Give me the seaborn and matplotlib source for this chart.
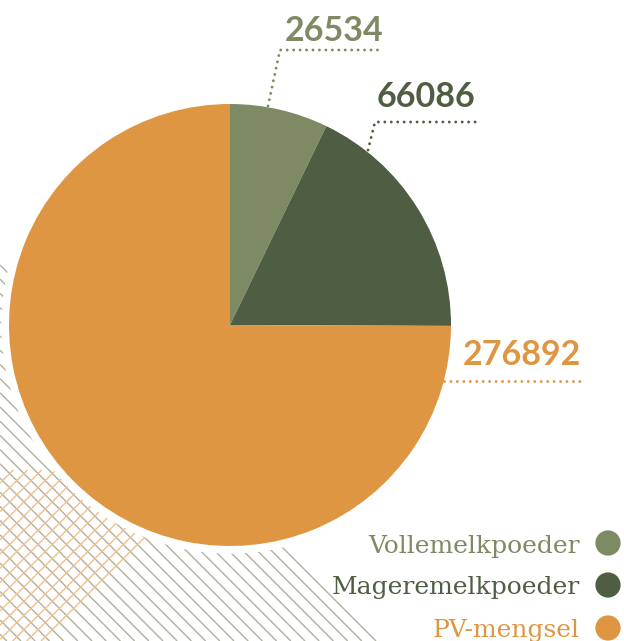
import numpy as np
import pandas as pd
import matplotlib
matplotlib.use('Agg')
import matplotlib.pyplot as plt
import seaborn as sns
from matplotlib.patches import Circle

# data
categories = ['Vollemelkpoeder', 'Mageremelkpoeder', 'PV-mengsel']
values = [26534, 66086, 276892]
value_labels = ['26534', '66086', '276892']
colors = ['#7e8a64', '#4f5e42', '#df9642']

W, H = 624, 641

sns.set_style('white')
plt.rcParams['font.family'] = ['Lato', 'DejaVu Sans']

fig = plt.figure(figsize=(W / 100, H / 100), dpi=100)
ax = fig.add_axes([0, 0, 1, 1])


def Y(y):
    # image pixel row -> data y
    return H - y


# background hatching (grey "\" and orange "/")
for c in np.arange(265, H + 1, 14.2):
    ax.plot([0, H - c], [Y(c), Y(H)], color='#b4b4a2', lw=1.05, zorder=1,
            solid_capstyle='butt')
for d in np.arange(682, 470, -14.2):
    x0 = max(0, d - H)
    x1 = d - 470
    ax.plot([x0, x1], [Y(d - x0), Y(d - x1)], color='#f4c08c', lw=1.05,
            zorder=1, solid_capstyle='butt')

cx, cy, r = 230, Y(325), 221
ax.add_patch(Circle((cx, cy), r + 7, color='white', zorder=2))

ax.pie(values, colors=colors, startangle=90, counterclock=False,
       center=(cx, cy), radius=r,
       wedgeprops=dict(edgecolor='none', linewidth=0, zorder=3))

# leader lines + value labels
leaders = [([268, 280, 383], [106, 50, 50]),
           ([368, 375, 478], [150, 122, 122]),
           ([444, 584], [381, 381])]
label_pos = [(334, 41), (426, 107), (522, 365)]
for (xs, ys), (tx, ty), lab, col in zip(leaders, label_pos, value_labels, colors):
    ax.plot(xs, [Y(v) for v in ys], color=col, lw=2.1,
            linestyle=(0, (0.01, 2.2)), dash_capstyle='round', zorder=4)
    ax.text(tx, Y(ty), lab, color=col, fontsize=24.5, fontweight='bold',
            ha='center', va='baseline', zorder=5)

# legend
leg_y = [543, 585, 628]
base_y = [553, 594, 637]
dots = pd.DataFrame({'x': [608] * 3, 'y': [Y(v) for v in leg_y],
                     'cat': categories})
sns.scatterplot(data=dots, x='x', y='y', hue='cat', palette=colors,
                s=330, linewidth=0, legend=False, ax=ax, zorder=5)
for cat, col, by in zip(categories, colors, base_y):
    ax.text(580, Y(by), cat, color=col, fontsize=18, family=['DejaVu Serif'],
            ha='right', va='baseline', zorder=5)

ax.set_xlim(0, W)
ax.set_ylim(0, H)
ax.set_aspect('auto')
ax.axis('off')

fig.savefig('out.png', dpi=100, facecolor='white')
